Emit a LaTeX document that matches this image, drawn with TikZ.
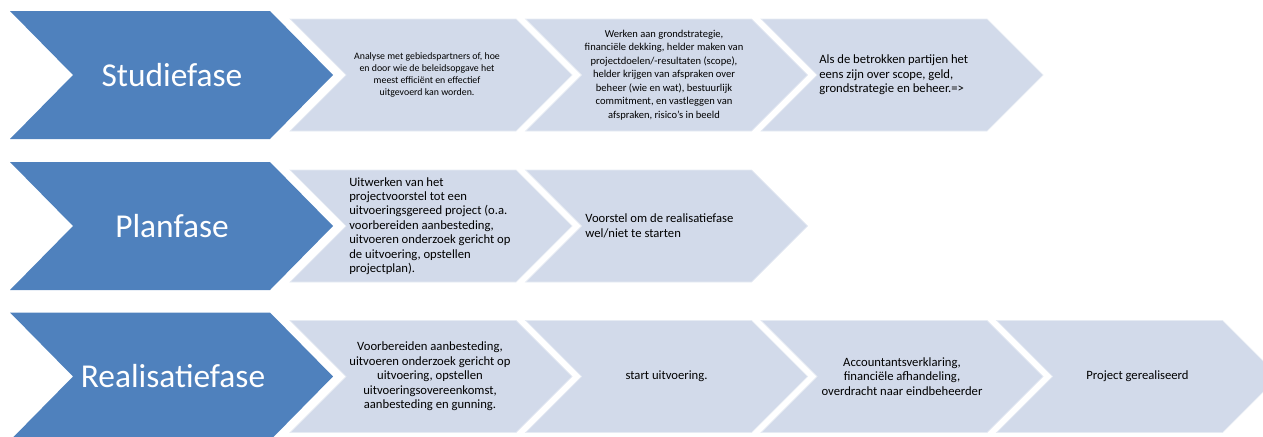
\documentclass[tikz,border=0pt]{standalone}
\usepackage{fontspec}
\setmainfont{Carlito}
\usepackage{tikz}
\definecolor{phaseblue}{HTML}{4F81BD}
\definecolor{steplight}{HTML}{D2DAEA}
\tikzset{
	phase/.style={fill=phaseblue},
	stepfill/.style={fill=steplight, draw=steplight!55!white, line width=0.4pt},
	phase label/.style={text=white, font=\fontsize{19}{23}\selectfont, inner sep=0pt},
	step label/.style={align=center, inner sep=0pt, text=black},
	small text/.style={font=\fontsize{5.6}{6.7}\selectfont},
	mid text/.style={font=\fontsize{6}{7.7}\selectfont},
	big text/.style={font=\fontsize{7.2}{8.2}\selectfont},
	pics/bigchev/.style={code={\path[phase] (0,-64) -- (260,-64) -- (323,0) -- (260,64) -- (0,64) -- (63,0) -- cycle;}},
	pics/smallchev/.style={code={\path[stepfill] (0,-56) -- (226,-56) -- (282,0) -- (226,56) -- (0,56) -- (56,0) -- cycle;}}
}

\begin{document}
\begin{tikzpicture}[x=0.02cm, y=-0.02cm]
	\clip (0,0) rectangle (1263,436);
	% Studiefase
	\pic at (10,75) {bigchev};
	\pic at (290,75) {smallchev};
	\pic at (525.5,75) {smallchev};
	\pic at (761,75) {smallchev};
	\node [phase label] (studie) at (172,75) {Studiefase};
	\node [step label, small text] (studie1) at (427,75) {Analyse met gebiedspartners of, hoe\\en door wie de beleidsopgave het\\meest efficiënt en effectief\\uitgevoerd kan worden.};
	\node [step label, mid text] (studie2) at (664,75) {Werken aan grondstrategie,\\financiële dekking, helder maken van\\projectdoelen/-resultaten (scope),\\helder krijgen van afspraken over\\beheer (wie en wat), bestuurlijk\\commitment, en vastleggen van\\afspraken, risico's in beeld};
	\node [step label, big text, align=left, anchor=west] (studie3) at (819,75) {Als de betrokken partijen het\\eens zijn over scope, geld,\\grondstrategie en beheer.=>};
	% Planfase
	\pic at (10,226) {bigchev};
	\pic at (290,226) {smallchev};
	\pic at (525.5,226) {smallchev};
	\node [phase label] (plan) at (172,226) {Planfase};
	\node [step label, big text, align=left, anchor=west] (plan1) at (349,226) {Uitwerken van het\\projectvoorstel tot een\\uitvoeringsgereed project (o.a.\\voorbereiden aanbesteding,\\uitvoeren onderzoek gericht op\\de uitvoering, opstellen\\projectplan).};
	\node [step label, big text, align=left, anchor=west] (plan2) at (585,226) {Voorstel om de realisatiefase\\wel/niet te starten};
	% Realisatiefase
	\pic at (10,376.5) {bigchev};
	\pic at (290,376.5) {smallchev};
	\pic at (525.5,376.5) {smallchev};
	\pic at (761,376.5) {smallchev};
	\pic at (996.5,376.5) {smallchev};
	\node [phase label] (real) at (173,376.5) {Realisatiefase};
	\node [step label, big text] (real1) at (430,376.5) {Voorbereiden aanbesteding,\\uitvoeren onderzoek gericht op\\uitvoering, opstellen\\uitvoeringsovereenkomst,\\aanbesteding en gunning.};
	\node [step label, big text] (real2) at (666.5,376.5) {start uitvoering.};
	\node [step label, big text] (real3) at (902,376.5) {Accountantsverklaring,\\financiële afhandeling,\\overdracht naar eindbeheerder};
	\node [step label, big text] (real4) at (1137.5,376.5) {Project gerealiseerd};
\end{tikzpicture}
\end{document}
